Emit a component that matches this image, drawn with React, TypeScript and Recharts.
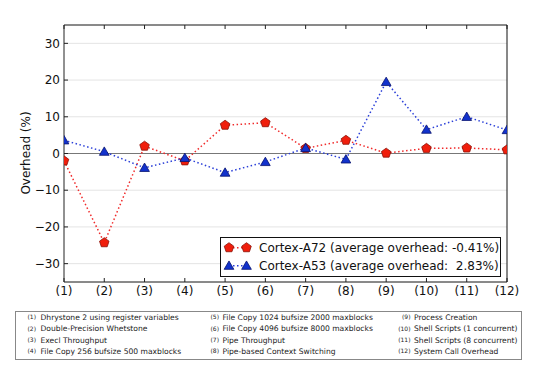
import React from 'react';
import { LineChart, Line, XAxis, YAxis, CartesianGrid, ReferenceLine } from 'recharts';

const categories = [1, 2, 3, 4, 5, 6, 7, 8, 9, 10, 11, 12];
const a72Values = [-2.0, -24.3, 2.0, -2.0, 7.7, 8.4, 1.4, 3.6, 0.1, 1.4, 1.5, 1.0];
const a53Values = [3.6, 0.5, -3.9, -1.2, -5.2, -2.3, 1.5, -1.6, 19.5, 6.5, 10.0, 6.4];
const yTicks = [-30, -20, -10, 0, 10, 20, 30];
const seriesNames = ['Cortex-A72 (average overhead: -0.41%)', 'Cortex-A53 (average overhead:  2.83%)'];
const benchmarkNames = [
  'Dhrystone 2 using register variables',
  'Double-Precision Whetstone',
  'Execl Throughput',
  'File Copy 256 bufsize 500 maxblocks',
  'File Copy 1024 bufsize 2000 maxblocks',
  'File Copy 4096 bufsize 8000 maxblocks',
  'Pipe Throughput',
  'Pipe-based Context Switching',
  'Process Creation',
  'Shell Scripts (1 concurrent)',
  'Shell Scripts (8 concurrent)',
  'System Call Overhead',
];

const data = categories.map((c, i) => ({ x: c, a72: a72Values[i], a53: a53Values[i] }));

const FONT = '"DejaVu Sans", sans-serif';
const RED_FILL = '#f01e0c';
const RED_EDGE = '#8a1208';
const RED_LINE = '#f02a2a';
const BLUE_FILL = '#1232cc';
const BLUE_EDGE = '#06126e';
const BLUE_LINE = '#2a3fd8';

function pentagonPoints(cx: number, cy: number, r: number) {
  const pts: string[] = [];
  for (let k = 0; k < 5; k++) {
    const a = (-90 + k * 72) * Math.PI / 180;
    pts.push(`${cx + r * Math.cos(a)},${cy + r * Math.sin(a)}`);
  }
  return pts.join(' ');
}
function trianglePoints(cx: number, cy: number, r: number) {
  const pts: string[] = [];
  for (let k = 0; k < 3; k++) {
    const a = (-90 + k * 120) * Math.PI / 180;
    pts.push(`${cx + r * Math.cos(a)},${cy + r * Math.sin(a) + r * 0.15}`);
  }
  return pts.join(' ');
}

const Pentagon = (props: any) => {
  const { cx, cy, index } = props;
  if (cx == null || cy == null) return <g key={index} />;
  return <polygon key={index} points={pentagonPoints(cx, cy, 5)} fill={RED_FILL} stroke={RED_EDGE} strokeWidth={0.8} />;
};
const Triangle = (props: any) => {
  const { cx, cy, index } = props;
  if (cx == null || cy == null) return <g key={index} />;
  return <polygon key={index} points={trianglePoints(cx, cy, 5.6)} fill={BLUE_FILL} stroke={BLUE_EDGE} strokeWidth={0.8} />;
};

const fmtY = (v: number) => (v < 0 ? '\u2212' + Math.abs(v) : String(v));
const fmtX = (v: number) => `(${v})`;
const blank = () => '';

export default function App() {
  const rowY = [317.3, 328.7, 340, 351.3];
  const cols = [
    { idx: [0, 1, 2, 3], numRight: 36, textLeft: 40.5 },
    { idx: [4, 5, 6, 7], numRight: 219, textLeft: 222.5 },
    { idx: [8, 9, 10, 11], numRight: 410.5, textLeft: 414 },
  ];
  return (
    <div style={{ position: 'absolute', left: 0, top: 0, width: 539, height: 378, background: '#fff', fontFamily: FONT }}>
      <LineChart width={539} height={378} data={data} margin={{ top: 24, right: 31, bottom: 66, left: 24 }}>
        <CartesianGrid vertical={false} stroke="#e4e4e4" strokeWidth={1} />
        <XAxis
          dataKey="x"
          type="number"
          domain={[1, 12]}
          ticks={categories}
          tickFormatter={fmtX}
          height={30}
          tickSize={-4}
          tickMargin={8}
          interval={0}
          stroke="#222"
          tick={{ fill: '#111', fontSize: 12, fontFamily: FONT }}
          tickLine={{ stroke: '#222' }}
          allowDataOverflow
        />
        <XAxis
          xAxisId="top"
          orientation="top"
          dataKey="x"
          type="number"
          domain={[1, 12]}
          ticks={categories}
          tickFormatter={blank}
          height={1}
          tickSize={-4}
          interval={0}
          stroke="#222"
          tickLine={{ stroke: '#222' }}
        />
        <YAxis
          type="number"
          domain={[-35, 35]}
          ticks={yTicks}
          tickFormatter={fmtY}
          width={40}
          tickSize={-4}
          tickMargin={8}
          interval={0}
          stroke="#222"
          tick={{ fill: '#111', fontSize: 12, fontFamily: FONT }}
          tickLine={{ stroke: '#222' }}
          allowDataOverflow
        />
        <YAxis
          yAxisId="right"
          orientation="right"
          type="number"
          domain={[-35, 35]}
          ticks={yTicks}
          tickFormatter={blank}
          width={1}
          tickSize={-4}
          interval={0}
          stroke="#111"
          tickLine={{ stroke: '#222' }}
        />
        <ReferenceLine y={0} stroke="#777" strokeWidth={1} />
        <Line
          dataKey="a72"
          stroke={RED_LINE}
          strokeWidth={1.5}
          strokeDasharray="1.5 2.5"
          dot={Pentagon}
          activeDot={false}
          isAnimationActive={false}
        />
        <Line
          dataKey="a53"
          stroke={BLUE_LINE}
          strokeWidth={1.5}
          strokeDasharray="1.5 2.5"
          dot={Triangle}
          activeDot={false}
          isAnimationActive={false}
        />
      </LineChart>

      <div
        style={{
          position: 'absolute', left: 26, top: 153, transform: 'translate(-50%, -50%) rotate(-90deg)',
          fontSize: 12, color: '#111', whiteSpace: 'nowrap',
        }}
      >
        Overhead (%)
      </div>

      <svg style={{ position: 'absolute', left: 0, top: 0 }} width={539} height={378}>
        <rect x={220.5} y={237.5} width={280} height={39} fill="#fff" stroke="#111" strokeWidth={1} />
        <line x1={229} y1={247.7} x2={246.5} y2={247.7} stroke={RED_LINE} strokeWidth={1.5} strokeDasharray="1.5 2.5" />
        <polygon points={pentagonPoints(229, 247.7, 5)} fill={RED_FILL} stroke={RED_EDGE} strokeWidth={0.8} />
        <polygon points={pentagonPoints(246.5, 247.7, 5)} fill={RED_FILL} stroke={RED_EDGE} strokeWidth={0.8} />
        <text x={259} y={247.7} dy="0.36em" fontSize={12} fontFamily={FONT} fill="#111" style={{ whiteSpace: 'pre' }}>{seriesNames[0]}</text>
        <line x1={229} y1={265.7} x2={246.5} y2={265.7} stroke={BLUE_LINE} strokeWidth={1.5} strokeDasharray="1.5 2.5" />
        <polygon points={trianglePoints(229, 265.7, 5.6)} fill={BLUE_FILL} stroke={BLUE_EDGE} strokeWidth={0.8} />
        <polygon points={trianglePoints(246.5, 265.7, 5.6)} fill={BLUE_FILL} stroke={BLUE_EDGE} strokeWidth={0.8} />
        <text x={259} y={265.7} dy="0.36em" fontSize={12} fontFamily={FONT} fill="#111" style={{ whiteSpace: 'pre' }}>{seriesNames[1]}</text>

        <rect x={15.5} y={311.5} width={506} height={48} fill="#fff" stroke="#888" strokeWidth={1} />
        {cols.map((col, ci) =>
          col.idx.map((bi, ri) => (
            <g key={`${ci}-${ri}`}>
              <text x={col.numRight} y={rowY[ri]} dy="0.36em" textAnchor="end" fontSize={6} fontFamily={FONT} fill="#222">{`(${bi + 1})`}</text>
              <text x={col.textLeft} y={rowY[ri]} dy="0.36em" fontSize={7.6} fontFamily={FONT} fill="#222">{benchmarkNames[bi]}</text>
            </g>
          ))
        )}
      </svg>
    </div>
  );
}
